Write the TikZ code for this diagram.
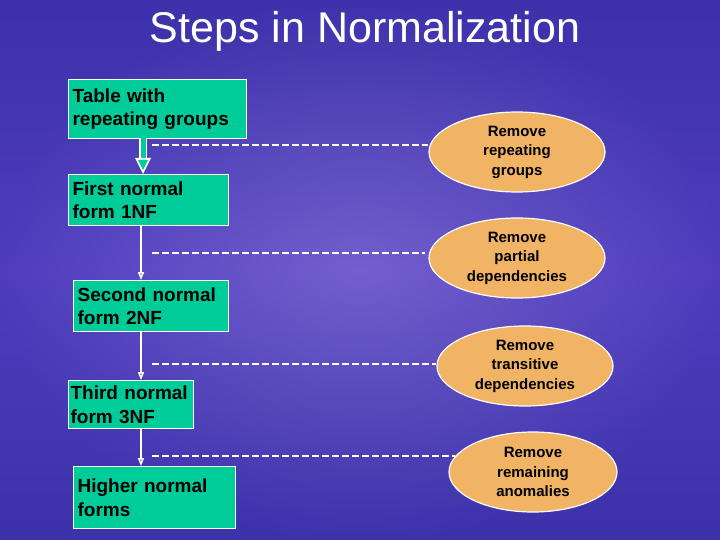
\documentclass[tikz,border=0pt]{standalone}
\usepackage{fontspec}
\setmainfont{Liberation Sans}
\usetikzlibrary{shapes.geometric,arrows.meta}
\definecolor{boxg}{RGB}{0,204,153}
\definecolor{ovalc}{RGB}{240,180,100}
\definecolor{bgA}{RGB}{40,40,150}
\definecolor{bgB}{RGB}{80,60,190}
\definecolor{bgC}{RGB}{150,130,220}
\begin{document}
\begin{tikzpicture}[x=1pt,y=-1pt,
  stepbox/.style={draw=white,line width=1.2pt,fill=boxg,anchor=north west,minimum height=#1,align=left,inner xsep=4pt,inner ysep=2pt,font=\bfseries\fontsize{19}{23.5}\selectfont,text=black},
  oval/.style={ellipse,draw=white,line width=1.2pt,fill=ovalc,minimum width=176pt,minimum height=80pt,inner sep=0pt,align=center,font=\bfseries\fontsize{15}{19.5}\selectfont,text=black},
  dline/.style={white,line width=1.3pt,dash pattern=on 7pt off 3pt},
  thin/.style={white,line width=1.5pt,-{Triangle[open,length=8pt,width=6pt]}},
]
\useasboundingbox (0,0) rectangle (720,540);
\shade[top color=bgA,bottom color=bgA,middle color=bgB] (0,0) rectangle (720,540);
\shade[inner color=bgC,outer color=bgB,opacity=0.5] (0,0) rectangle (720,540);
\node[text=white,font=\fontsize{43}{50}\selectfont] (title) at (365,31) {Steps in Normalization};

\node[stepbox=59pt,text width=170pt] (b1) at (68,79) {Table with\\repeating groups};
\node[stepbox=51pt,text width=152pt] (b2) at (68,174) {First normal\\form 1NF};
\node[stepbox=51pt,text width=147pt] (b3) at (73,280) {Second normal\\form 2NF};
\node[stepbox=48pt,text width=121pt,inner xsep=2pt] (b4) at (68,380) {Third normal\\form 3NF};
\node[stepbox=62pt,text width=154pt] (b5) at (73,466) {Higher normal\\forms};

\node[oval] (e1) at (517,152) {Remove\\repeating\\groups};
\node[oval] (e2) at (517,258) {Remove\\partial\\dependencies};
\node[oval] (e3) at (525,366) {Remove\\transitive\\dependencies};
\node[oval,minimum width=168pt] (e4) at (533,472) {Remove\\remaining\\anomalies};

\coordinate (t1) at (143,138); \coordinate (h1) at (143,174);
\draw[white,line width=8pt] (t1) -- (143,160);
\draw[boxg,line width=5pt] (t1) -- (143,160);
\fill[white] (135,158) -- (151,158) -- (h1) -- cycle;
\fill[boxg] (138,160) -- (148,160) -- (143,170) -- cycle;
\coordinate (t2) at (141,225); \coordinate (h2) at (141,280);
\coordinate (t3) at (141,331); \coordinate (h3) at (141,380);
\coordinate (t4) at (141,428); \coordinate (h4) at (141,466);
\draw[thin] (t2) -- (h2);
\draw[thin] (t3) -- (h3);
\draw[thin] (t4) -- (h4);

\coordinate (d1) at (152,145); \draw[dline] (d1) -- (e1.west |- d1);
\coordinate (d2) at (152,253); \draw[dline] (d2) -- (425,253);
\coordinate (d3) at (152,364); \draw[dline] (d3) -- (e3.west |- d3);
\coordinate (d4) at (152,456); \draw[dline] (d4) -- (455,456);
\end{tikzpicture}
\end{document}
